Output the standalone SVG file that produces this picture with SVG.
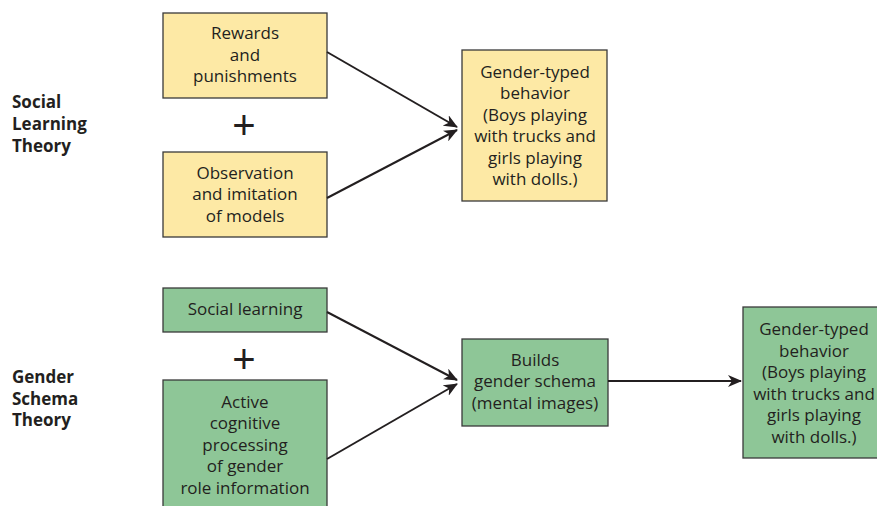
<svg xmlns="http://www.w3.org/2000/svg" width="877" height="506" viewBox="0 0 877 506">
<defs>
<marker id="ah" markerWidth="14" markerHeight="12" refX="13" refY="6" orient="auto" markerUnits="userSpaceOnUse">
<path d="M0,0 L14,6 L0,12 L4,6 Z" fill="#231f20"/>
</marker>
<style>
.y{fill:#fde9a5;stroke:#3a3a3a;stroke-width:1.3}
.g{fill:#8ec697;stroke:#3a3a3a;stroke-width:1.3}
.t{font-family:"Open Sans","Liberation Sans",sans-serif;font-size:17px;fill:#231f20;text-anchor:middle}
.h{font-family:"Open Sans","Liberation Sans",sans-serif;font-size:17px;font-weight:bold;fill:#231f20}
.p{font-family:"Liberation Sans",sans-serif;font-size:40px;fill:#231f20;text-anchor:middle}
.c{stroke:#231f20;stroke-width:2;fill:none}
</style>
</defs>
<rect width="877" height="506" fill="#fff"/>
<g id="label-slt">
<text class="h" x="12" y="108">Social</text>
<text class="h" x="12" y="130">Learning</text>
<text class="h" x="12" y="152">Theory</text>
</g>
<g id="label-gst">
<text class="h" x="12" y="383">Gender</text>
<text class="h" x="12" y="405">Schema</text>
<text class="h" x="12" y="426">Theory</text>
</g>
<g id="rewards">
<rect class="y" x="163" y="13" width="164" height="85"/>
<text class="t" x="245" y="39">Rewards</text>
<text class="t" x="245" y="61">and</text>
<text class="t" x="245" y="82">punishments</text>
</g>
<text class="p" x="244" y="139">+</text>
<g id="observation">
<rect class="y" x="163" y="152" width="164" height="85"/>
<text class="t" x="245" y="179">Observation</text>
<text class="t" x="245" y="200">and imitation</text>
<text class="t" x="245" y="222">of models</text>
</g>
<g id="behavior1">
<rect class="y" x="462" y="50" width="145" height="151"/>
<text class="t" x="535" y="78">Gender-typed</text>
<text class="t" x="535" y="99">behavior</text>
<text class="t" x="535" y="121">(Boys playing</text>
<text class="t" x="535" y="142">with trucks and</text>
<text class="t" x="535" y="164">girls playing</text>
<text class="t" x="535" y="185">with dolls.)</text>
</g>
<g id="social-learning">
<rect class="g" x="163" y="288" width="164" height="44"/>
<text class="t" x="245" y="315">Social learning</text>
</g>
<text class="p" x="244" y="373">+</text>
<g id="active">
<rect class="g" x="163" y="380" width="164" height="140"/>
<text class="t" x="245" y="408">Active</text>
<text class="t" x="245" y="429">cognitive</text>
<text class="t" x="245" y="451">processing</text>
<text class="t" x="245" y="472">of gender</text>
<text class="t" x="245" y="494">role information</text>
</g>
<g id="builds">
<rect class="g" x="462" y="339" width="146" height="87"/>
<text class="t" x="535" y="366">Builds</text>
<text class="t" x="535" y="387">gender schema</text>
<text class="t" x="535" y="409">(mental images)</text>
</g>
<g id="behavior2">
<rect class="g" x="743" y="307" width="150" height="151"/>
<text class="t" x="814" y="335">Gender-typed</text>
<text class="t" x="814" y="357">behavior</text>
<text class="t" x="814" y="378">(Boys playing</text>
<text class="t" x="814" y="400">with trucks and</text>
<text class="t" x="814" y="421">girls playing</text>
<text class="t" x="814" y="443">with dolls.)</text>
</g>
<g id="connectors">
<line class="c" x1="327" y1="52" x2="457" y2="127" marker-end="url(#ah)"/>
<line class="c" x1="327" y1="198" x2="457" y2="130" marker-end="url(#ah)"/>
<line class="c" x1="327" y1="312" x2="457" y2="380" marker-end="url(#ah)"/>
<line class="c" x1="327" y1="459" x2="457" y2="384" marker-end="url(#ah)"/>
<line class="c" x1="608" y1="381" x2="741" y2="381" marker-end="url(#ah)"/>
</g>
</svg>
